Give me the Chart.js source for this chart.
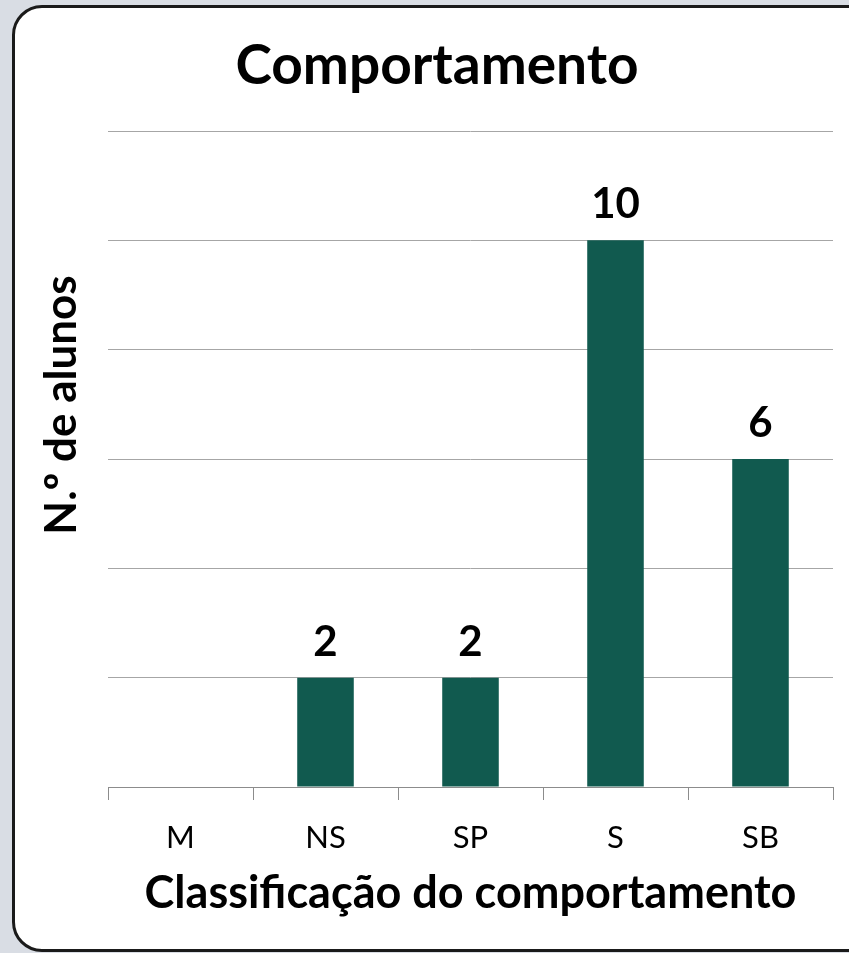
<!DOCTYPE html>
<html>
<head>
<meta charset="utf-8">
<script src="https://cdn.jsdelivr.net/npm/chart.js@4"></script>
<style>
  html, body { margin: 0; padding: 0; }
  body { background: #d9dde4; width: 849px; height: 953px; position: relative; overflow: hidden; }
  .card {
    position: absolute; left: 12px; top: 5px; width: 880px; height: 941px;
    background: #fff; border: 3px solid #1a1a1a; border-radius: 30px;
  }
  #chart { position: absolute; left: 0; top: 0; }
</style>
</head>
<body>
<div class="card"></div>
<canvas id="chart" width="849" height="953"></canvas>
<script>
// Comportamento - número de alunos por classificação
const categories = ['M', 'NS', 'SP', 'S', 'SB'];
const alunos = [0, 2, 2, 10, 6];
const yTicks = [0, 2, 4, 6, 8, 10, 12];

const FONT = 'Lato, "Open Sans", sans-serif';
const BAR_COLOR = '#115a4f';

// Title, vertical axis caption and value labels
const textPlugin = {
  id: 'texts',
  afterDatasetsDraw(chart) {
    const ctx = chart.ctx;
    ctx.save();
    ctx.fillStyle = '#000';
    ctx.textAlign = 'center';

    // value labels over each bar
    ctx.font = 'bold 42px ' + FONT;
    ctx.textBaseline = 'alphabetic';
    chart.getDatasetMeta(0).data.forEach((bar, i) => {
      const v = alunos[i];
      if (!v) return;
      ctx.fillText(String(v), bar.x, bar.y - 22);
    });

    // chart title
    ctx.font = 'bold 55px ' + FONT;
    ctx.fillText('Comportamento', 437, 84);

    // y axis caption
    ctx.font = 'bold 44px ' + FONT;
    ctx.textBaseline = 'middle';
    ctx.translate(62, 405);
    ctx.rotate(-Math.PI / 2);
    ctx.fillText('N.º de alunos', 0, 0);
    ctx.restore();
  }
};

new Chart(document.getElementById('chart'), {
  type: 'bar',
  data: {
    labels: categories,
    datasets: [{
      data: alunos,
      backgroundColor: BAR_COLOR,
      borderWidth: 0,
      barPercentage: 0.39,
      categoryPercentage: 1
    }]
  },
  options: {
    responsive: false,
    animation: false,
    layout: { padding: { top: 131, right: 16, left: 0, bottom: 0 } },
    plugins: {
      legend: { display: false },
      tooltip: { enabled: false }
    },
    scales: {
      x: {
        offset: true,
        grid: {
          offset: true,
          drawOnChartArea: false,
          drawTicks: true,
          tickLength: 13,
          color: '#8c8c8c'
        },
        border: { display: true, color: '#8c8c8c', width: 1 },
        ticks: {
          color: '#000',
          padding: 19,
          font: { family: FONT, size: 31 }
        },
        title: {
          display: true,
          text: 'Classificação do comportamento',
          color: '#000',
          font: { family: FONT, size: 45, weight: 'bold' },
          padding: { top: 33, bottom: 33 }
        },
        afterFit(scale) { scale.height = 166; }
      },
      y: {
        min: 0,
        max: 12,
        afterBuildTicks(scale) {
          scale.ticks = yTicks.map(v => ({ value: v }));
        },
        ticks: { display: false },
        grid: {
          color: '#a6a6a6',
          lineWidth: 1,
          drawTicks: false
        },
        border: { display: false },
        afterFit(scale) { scale.width = 108; }
      }
    }
  },
  plugins: [textPlugin]
});
</script>
</body>
</html>
